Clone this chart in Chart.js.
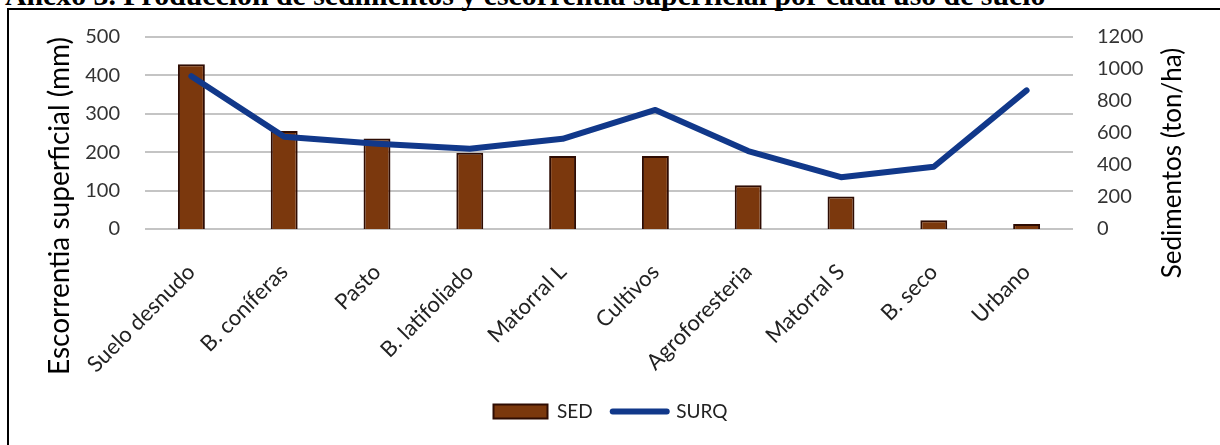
<!DOCTYPE html>
<html>
<head>
<meta charset="utf-8">
<script src="https://cdn.jsdelivr.net/npm/chart.js@4.4.0/dist/chart.umd.min.js"></script>
<style>
  html, body { margin: 0; padding: 0; background: #fff; width: 1220px; height: 445px; overflow: hidden; }
  #titulo {
    position: absolute; left: 5px; top: -20px; white-space: nowrap;
    font-family: "Liberation Serif", serif; font-weight: bold; font-size: 29.8px; line-height: 29.5px; color: #000;
  }
  #marco {
    position: absolute; left: 7px; top: 8px; width: 1230px; height: 460px;
    border-left: 2px solid #000; border-top: 2px solid #000;
  }
  #wrap { position: absolute; left: 0; top: 0; }
</style>
</head>
<body>
<div id="titulo">Anexo 3. Producción de sedimentos y escorrentía superficial por cada uso de suelo</div>
<div id="marco"></div>
<div id="wrap"><canvas id="grafico" width="1220" height="445"></canvas></div>
<script>
// ===================
// Datos
// ===================
const usosSuelo = ["Suelo desnudo", "B. coníferas", "Pasto", "B. latifoliado", "Matorral L",
  "Cultivos", "Agroforesteria", "Matorral S", "B. seco", "Urbano"];
const sed = [1030, 612, 565, 477, 456, 456, 274, 203, 54, 31];   // ton/ha (eje derecho)
const surq = [398, 240, 222, 209, 235, 310, 203, 135, 162, 361]; // mm (eje izquierdo)
const ticksEscorrentia = [0, 100, 200, 300, 400, 500];
const ticksSedimentos = [0, 200, 400, 600, 800, 1000, 1200];

const fuente = "Lato, 'Open Sans', sans-serif";

// titulos de los ejes (leidos de abajo hacia arriba, como en Excel)
const titulosEjes = {
  id: "titulosEjes",
  afterDraw(chart) {
    const ctx = chart.ctx;
    const titulo = (texto, x, y, size) => {
      ctx.save();
      ctx.translate(x, y);
      ctx.rotate(-Math.PI / 2);
      ctx.font = size + "px " + fuente;
      ctx.fillStyle = "#000";
      ctx.textAlign = "center";
      ctx.textBaseline = "middle";
      ctx.fillText(texto, 0, 0);
      ctx.restore();
    };
    titulo("Escorrentia superficial (mm)", 60, 206, 28);
    titulo("Sedimentos (ton/ha)", 1173, 163, 26);
  },
};

new Chart(document.getElementById("grafico"), {
  type: "bar",
  data: {
    labels: usosSuelo,
    datasets: [
      {
        label: "SED",
        data: sed,
        yAxisID: "yDer",
        backgroundColor: "#7b380d",
        borderColor: "#2e0c03",
        borderWidth: 2,
        barPercentage: 0.29,
        categoryPercentage: 1,
        order: 1,
      },
      {
        type: "line",
        label: "SURQ",
        data: surq,
        yAxisID: "yIzq",
        borderColor: "#11388a",
        backgroundColor: "#11388a",
        borderWidth: 6,
        borderCapStyle: "round",
        borderJoinStyle: "round",
        pointRadius: 0,
        tension: 0,
        fill: false,
        order: 0,
      },
    ],
  },
  options: {
    responsive: false,
    animation: false,
    layout: { padding: { left: 8, right: 7, top: 34, bottom: 14 } },
    plugins: {
      tooltip: { enabled: false },
      legend: {
        position: "bottom",
        labels: {
          font: { family: fuente, size: 19 },
          color: "#222",
          usePointStyle: true,
          pointStyleWidth: 54,
          boxWidth: 54,
          boxHeight: 14,
          padding: 20,
          generateLabels(chart) {
            return chart.data.datasets.map((d, i) => ({
              text: d.label,
              fillStyle: d.backgroundColor,
              strokeStyle: d.borderColor,
              lineWidth: i === 0 ? 2 : 6,
              lineCap: "round",
              pointStyle: i === 0 ? "rect" : "line",
              datasetIndex: i,
              fontColor: "#222",
            }));
          },
        },
      },
    },
    scales: {
      x: {
        afterFit(axis) { axis.height = 153; },
        grid: { display: false },
        border: { display: false },
        ticks: {
          font: { family: fuente, size: 22 },
          color: "#222",
          minRotation: 45,
          maxRotation: 45,
          padding: 22,
        },
      },
      yIzq: {
        position: "left",
        min: 0,
        max: 500,
        afterBuildTicks(axis) {
          axis.ticks = ticksEscorrentia.map((v) => ({ value: v }));
        },
        afterFit(axis) { axis.width = 137; },
        grid: { color: "#c4c4c4", lineWidth: 2, drawTicks: false },
        border: { display: false },
        ticks: { font: { family: fuente, size: 20 }, color: "#333", padding: 25 },
      },
      yDer: {
        position: "right",
        min: 0,
        max: 1200,
        afterBuildTicks(axis) {
          axis.ticks = ticksSedimentos.map((v) => ({ value: v }));
        },
        afterFit(axis) { axis.width = 140; },
        grid: { display: false, drawTicks: false },
        border: { display: false },
        ticks: {
          font: { family: fuente, size: 20 },
          color: "#333",
          padding: 24,
          callback: (v) => String(v),
        },
      },
    },
  },
  plugins: [titulosEjes],
});
</script>
</body>
</html>
